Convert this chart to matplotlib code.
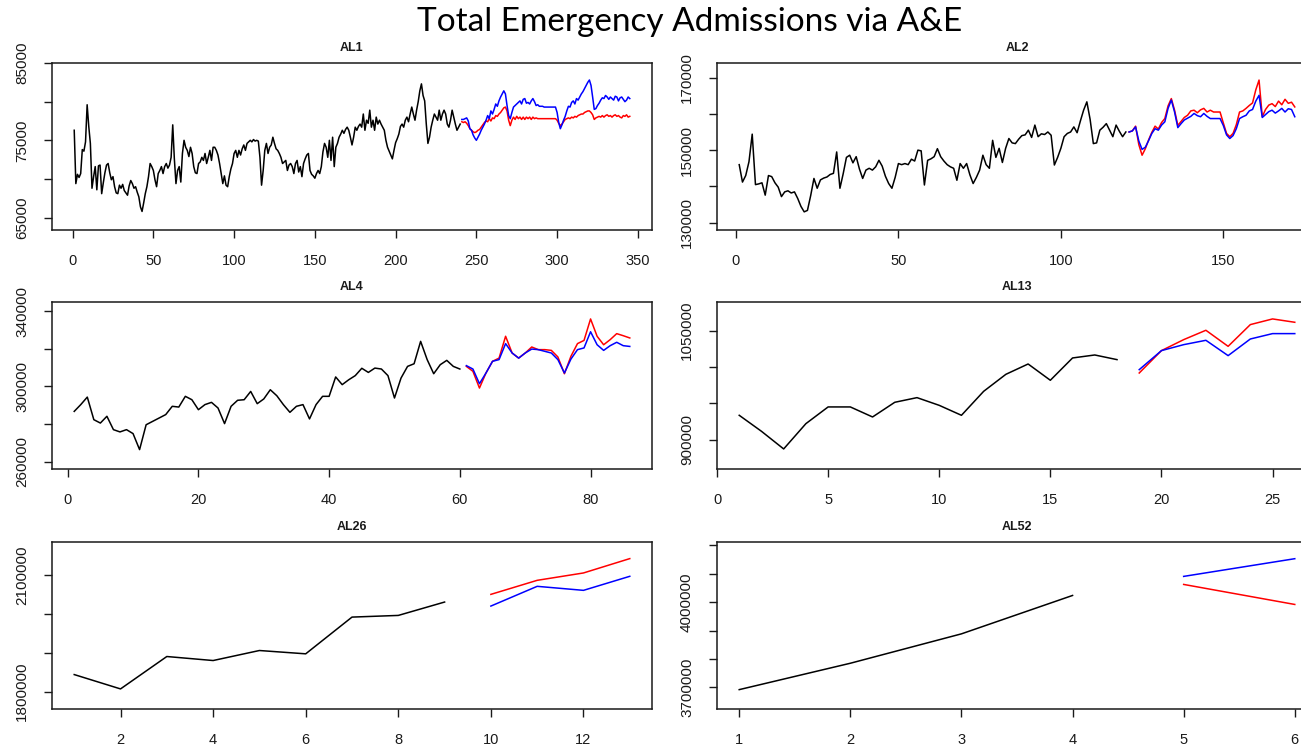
import matplotlib
matplotlib.use("Agg")
import matplotlib.pyplot as plt
import numpy as np

# black = observed series, red / blue = the two forecasts
al1_hist = [
    76300, 69400, 70600, 70200, 70700, 73800, 73600, 74800, 79600, 76800,
    74600, 68800, 70300, 71600, 68600, 71700, 71800, 68100, 69500, 70800,
    71800, 72000, 70800, 69900, 70300, 69000, 68200, 68100, 69200, 68800,
    69300, 68500, 68200, 67900, 69100, 69800, 69400, 68800, 69000, 68300,
    67700, 66400, 65800, 66900, 68100, 69000, 70300, 72000, 71600, 71100,
    69900, 69000, 70700, 71100, 71600, 70700, 71600, 72000, 71400, 71800,
    72800, 77000, 72600, 69400, 71100, 71600, 69600, 73300, 75000, 74100,
    73700, 72900, 74100, 73300, 71600, 70800, 70700, 72000, 72200, 72800,
    72400, 73300, 72000, 72800, 73700, 72400, 74100, 74100, 73700, 73100,
    72000, 70700, 69400, 70400, 69200, 69000, 70300, 71300, 72000, 73300,
    73700, 72800, 73700, 73100, 73900, 74400, 73700, 74600, 74800, 75000,
    74800, 75100, 74900, 75000, 74900, 72800, 69200, 71100, 73700, 74600,
    73300, 74100, 74400, 75400, 74600, 73900, 73700, 73300, 72800, 72000,
    72200, 72400, 71100, 71800, 72000, 71600, 70700, 72000, 72400, 70900,
    71600, 70300, 72000, 72600, 73100, 73300, 71100, 70600, 70400, 70100,
    70700, 71100, 70700, 71600, 73500, 74600, 74100, 72800, 75000, 72400,
    75400, 71600, 74100, 74600, 75400, 75800, 76300, 75900, 76400, 76700,
    76300, 75400, 74400, 75400, 76700, 76300, 76800, 77100, 76700, 78400,
    76300, 77600, 77200, 78900, 76700, 77600, 76300, 78000, 77100, 77600,
    77100, 76700, 76300, 75000, 74100, 73600, 73100, 72600, 73700, 74700,
    75200, 75800, 76800, 77100, 76700, 77600, 78000, 77400, 78400, 79300,
    78400, 77600, 78900, 80000, 81400, 82300, 80800, 80100, 77100, 74600,
    75400, 76700, 77600, 78400, 78000, 77600, 78900, 77600, 78400, 78900,
    78400, 77100, 76700, 77600, 78900, 78000, 77100, 76300, 76700, 77100,
]
al1_red = [
    77400, 77300, 77400, 77200, 76900, 76500, 76300, 76100, 76000, 76100,
    76300, 76400, 76700, 77000, 77300, 77500, 77400, 77800, 77500, 77900,
    77800, 78200, 78100, 78400, 78600, 78900, 79200, 79300, 78800, 77600,
    76900, 77600, 78000, 77700, 78100, 77800, 78000, 77700, 78000, 77700,
    78000, 77800, 78000, 77700, 78000, 77800, 77900, 77800, 77800, 77800,
    77800, 77800, 77800, 77800, 77800, 77800, 77800, 77800, 77800, 77600,
    77200, 76900, 77100, 77400, 77700, 77800, 77900, 77800, 78000, 77900,
    78100, 78000, 78200, 78300, 78400, 78400, 78600, 78700, 78800, 78800,
    78600, 78300, 77700, 77900, 78000, 78100, 78000, 78200, 78000, 78200,
    78300, 78100, 78200, 78000, 78200, 78300, 78100, 78200, 78000, 77900,
    78200, 78100, 78300, 78000, 78100,
]
al1_blue = [
    77700, 77700, 77800, 77900, 77500, 76500, 76300, 75700, 75300, 75000,
    75400, 75800, 76300, 76700, 77100, 77600, 78200, 77800, 78800, 78400,
    79000, 79700, 79400, 80100, 80600, 81000, 81400, 81000, 79500, 78200,
    77800, 78600, 79300, 79500, 79700, 79900, 80100, 79700, 80300, 80400,
    79800, 79900, 79700, 80100, 80400, 80000, 79500, 79600, 79400, 79400,
    79400, 79300, 79300, 79300, 79300, 79300, 79300, 79300, 79300, 78600,
    77300, 76500, 77000, 77600, 78100, 78800, 79400, 79300, 79900, 80100,
    79700, 80400, 80200, 80600, 81000, 81300, 81700, 82100, 82500, 82800,
    82100, 80600, 79000, 79100, 79500, 79800, 80200, 80500, 80400, 80800,
    80600, 80300, 80600, 80400, 80200, 80700, 80600, 80100, 80500, 80600,
    80300, 80000, 80200, 80600, 80400,
]

al2_hist = [
    146000, 141200, 143000, 146800, 154400, 140500, 140700, 141000, 137600, 143000,
    142700, 141000, 139800, 137200, 138500, 138800, 138200, 138500, 136700, 134500,
    133000, 133400, 137500, 142200, 139500, 141800, 142300, 142600, 143300, 143600,
    149500, 139500, 143500, 148000, 148600, 146500, 148200, 144800, 142200, 144500,
    145000, 144500, 145400, 147200, 145600, 142800, 140800, 139500, 142500, 146300,
    146000, 146300, 146000, 147500, 147000, 150000, 149800, 140400, 147200, 147600,
    148200, 150400, 148200, 147000, 146000, 145400, 145000, 141700, 146300, 145000,
    146300, 143200, 140800, 142500, 144500, 148600, 146000, 145000, 152700, 148000,
    150500, 146600, 150500, 153200, 152000, 151800, 153000, 154000, 154200, 155500,
    153500, 156900, 153700, 154500, 154300, 155000, 154100, 145900, 148000, 150500,
    153700, 154600, 155000, 156400, 154800, 158000, 161000, 163300, 158500, 151800,
    152000, 155500, 156300, 157300, 155500, 153700, 156900, 155200, 153700, 155000,
]
al2_red = [
    155000, 155300, 156600, 151500, 148600, 150400, 152800, 154900, 156600, 155800,
    157600, 158700, 162200, 164200, 161000, 156800, 157900, 159000, 159600, 160800,
    161000, 160300, 161100, 161500, 160500, 161000, 160500, 160500, 160500, 157500,
    154600, 153700, 154600, 157000, 160500, 160800, 161500, 162300, 163000, 166600,
    169300, 159200, 161200, 162400, 162800, 162000, 163500, 162500, 164000, 162900,
    163200, 161900,
]
al2_blue = [
    155000, 155300, 156400, 152500, 150200, 150800, 152600, 154600, 155900, 155500,
    156900, 157800, 161500, 163800, 160500, 156200, 157300, 158300, 158800, 159300,
    160100, 159500, 159200, 160100, 159300, 158700, 158700, 158700, 158700, 156800,
    154200, 153200, 154000, 155900, 158700, 159200, 159600, 160800, 161200, 163500,
    165100, 159000, 159800, 160600, 161000, 160200, 160800, 161500, 160500, 161400,
    161200, 159200,
]

al4_hist = [
    286700, 290300, 294300, 282300, 280500, 284100, 277000, 275800, 277000, 274900,
    266400, 279600, 281400, 283200, 285000, 289400, 289000, 294700, 292900, 287600,
    290300, 291500, 288500, 280200, 289400, 292600, 292900, 297300, 290800, 293300,
    298200, 295000, 290300, 286200, 289400, 290300, 282700, 290300, 294700, 294700,
    305000, 300900, 303500, 305700, 309600, 307400, 309700, 309200, 305700, 293800,
    304400, 310600, 312000, 323900, 314200, 306700, 311500, 313800, 310600, 309200,
]
al4_red = [
    310600, 308000, 299100, 307100, 313300, 315000, 326600, 317700, 315000, 317700,
    320900, 319500, 319500, 319100, 315600, 306700, 316000, 322700, 324400, 335800,
    326600, 322100, 324800, 328000, 326900, 325700,
]
al4_blue = [
    311000, 309200, 301400, 307100, 313300, 314200, 322700, 317700, 315000, 317700,
    319800, 319500, 318600, 317700, 314200, 307100, 314500, 319500, 320400, 329000,
    322100, 319100, 321600, 323400, 321600, 321200,
]

al13_hist = [933500, 911500, 887200, 922000, 945000, 945000, 931200, 951400, 957800,
             947200, 933500, 966500, 989900, 1004100, 981700, 1012400, 1016500, 1010100]
al13_red = [991700, 1022500, 1037600, 1050500, 1028400, 1058300, 1066100, 1061500]
al13_blue = [996300, 1022500, 1030700, 1036700, 1015600, 1038500, 1045900, 1045900]

al26_hist = [1844000, 1807200, 1890300, 1880000, 1905700, 1897200, 1991400, 1995700, 2030000]
al26_red = [2049700, 2085700, 2104600, 2141400]
al26_blue = [2019700, 2070300, 2060000, 2096000]

al52_hist = [3691900, 3784800, 3888300, 4023500]
al52_red = [4062300, 3991800]
al52_blue = [4090600, 4152900]

names = ["AL1", "AL2", "AL4", "AL13", "AL26", "AL52"]
series = [
    (al1_hist, al1_red, al1_blue),
    (al2_hist, al2_red, al2_blue),
    (al4_hist, al4_red, al4_blue),
    (al13_hist, al13_red, al13_blue),
    (al26_hist, al26_red, al26_blue),
    (al52_hist, al52_red, al52_blue),
]

# axis setup per panel: (ylim, y ticks, labelled y ticks, x ticks)
axis_cfg = [
    ((63400, 85000), range(65000, 85001, 5000), [65000, 75000, 85000], range(0, 351, 50)),
    ((128000, 174000), range(130000, 170001, 10000), [130000, 150000, 170000], range(0, 151, 50)),
    ((256100, 344800), range(260000, 340001, 20000), [260000, 300000, 340000], range(0, 81, 20)),
    ((859600, 1089400), range(900000, 1050001, 50000), [900000, 1050000], range(0, 26, 5)),
    ((1755700, 2184000), range(1800000, 2100001, 100000), [1800000, 2100000], range(2, 13, 2)),
    ((3623700, 4211700), range(3700000, 4200001, 100000), [3700000, 4000000], range(1, 7)),
]

FW, FH = 1301, 748
BOX_W, BOX_H = 600, 167
lefts = [52, 717]
tops = [63, 302, 542]

tick_font = ["Liberation Sans", "DejaVu Sans"]

fig = plt.figure(figsize=(FW / 100, FH / 100), dpi=100)
fig.patch.set_facecolor("white")

for i, name in enumerate(names):
    row, col = divmod(i, 2)
    left, top = lefts[col], tops[row]
    ax = fig.add_axes([left / FW, 1 - (top + BOX_H) / FH, BOX_W / FW, BOX_H / FH])
    hist, red, blue = series[i]
    ylim, yticks, ylab, xticks = axis_cfg[i]

    n_hist = len(hist)
    x_hist = np.arange(1, n_hist + 1)
    x_fc = np.arange(n_hist + 1, n_hist + len(red) + 1)
    ax.plot(x_hist, hist, color="black", lw=1.1)
    ax.plot(x_fc, red, color="#ff0000", lw=1.1)
    ax.plot(x_fc, blue, color="#0000ff", lw=1.1)

    # R style 4% padding on x
    n = n_hist + len(red)
    pad = 0.04 * (n - 1)
    ax.set_xlim(1 - pad, n + pad)
    ax.set_ylim(*ylim)

    ax.set_xticks(list(xticks))
    ax.set_xticklabels([str(v) for v in xticks], family=tick_font, fontsize=10.5)
    ax.set_yticks(list(yticks))
    ax.set_yticklabels([str(v) if v in ylab else "" for v in yticks],
                       family=tick_font, fontsize=11, rotation=90, va="center")

    ax.tick_params(axis="x", direction="out", length=6, width=1, pad=11.5, colors="#1a1a1a")
    ax.tick_params(axis="y", direction="out", length=6, width=1, pad=10.5, colors="#1a1a1a")
    for sp in ax.spines.values():
        sp.set_linewidth(1.1)
        sp.set_color("#1a1a1a")

    ax.text(0.5, 1 + 15 / BOX_H, name, transform=ax.transAxes, ha="center", va="center",
            fontsize=9, fontweight="bold", family=tick_font, color="#1a1a1a")

fig.text(690 / FW, 1 - 22 / FH, "Total Emergency Admissions via A&E",
         ha="center", va="center", fontsize=24, family=["Lato", "DejaVu Sans"], color="black")

fig.savefig("out.png", dpi=100, facecolor="white")
